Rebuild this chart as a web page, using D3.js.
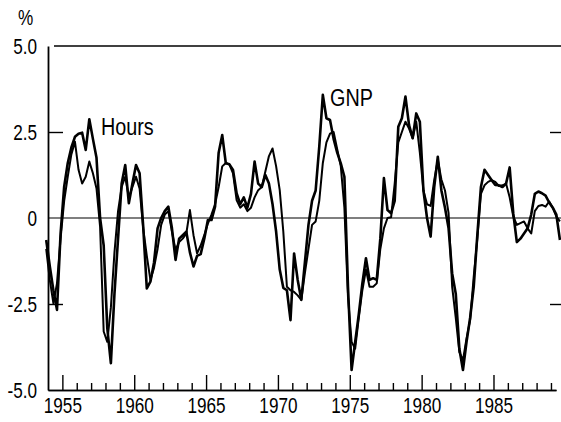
<!DOCTYPE html>
<html>
<head>
<meta charset="utf-8">
<script src="https://cdn.jsdelivr.net/npm/d3@7"></script>
<style>
  body { margin: 0; background: #fff; }
  svg { display: block; font-family: "Liberation Sans", Arial, sans-serif; }
</style>
</head>
<body>
<script>
// quarterly data, first point is the last quarter of 1953 (plotted at mid-quarter)
const firstQuarter = 1953.75;

// thick line
const hours = [
  -0.64,
  -1.4, -2.1, -2.67, -0.45,   // 1954
  0.91, 1.6, 2.05, 2.36,      // 1955
  2.45, 2.48, 1.98, 2.87,     // 1956
  2.3, 1.75, 0.0, -0.8,       // 1957
  -3.2, -4.22, -2.2, -0.6,    // 1958
  1.0, 1.54, 0.43, 1.0,       // 1959
  1.54, 1.3, -0.25, -2.05,    // 1960
  -1.85, -1.3, -0.3, 0.0,     // 1961
  0.2, 0.33, -0.3, -1.22,     // 1962
  -0.6, -0.5, -0.4, -1.0,     // 1963
  -1.41, -1.1, -1.05, -0.6,   // 1964
  -0.06, -0.06, 0.33, 1.9,    // 1965
  2.41, 1.59, 1.56, 1.4,      // 1966
  0.72, 0.4, 0.6, 0.3,        // 1967
  0.7, 1.64, 1.0, 0.9,        // 1968
  1.25, 1.0, 0.4, -0.4,       // 1969
  -1.5, -2.03, -2.1, -2.97,   // 1970
  -1.03, -1.8, -2.38, -1.3,   // 1971
  -0.2, 0.5, 0.8, 2.07,       // 1972
  3.58, 2.9, 2.85, 2.3,       // 1973
  1.9, 1.59, 1.2, -2.0,       // 1974
  -4.42, -3.6, -2.8, -1.9,    // 1975
  -1.17, -1.8, -1.75, -1.8,   // 1976
  -0.6, 1.16, 0.23, 0.14,     // 1977
  0.5, 2.65, 2.9, 3.53,       // 1978
  2.7, 2.32, 3.04, 2.8,       // 1979
  0.8, 0.0, -0.54, 0.9,       // 1980
  1.78, 0.8, 0.3, -0.3,       // 1981
  -1.61, -2.2, -3.8, -4.42,   // 1982
  -3.6, -2.9, -2.0, -0.5,     // 1983
  0.9, 1.4, 1.25, 1.1,        // 1984
  0.96, 0.95, 0.9, 1.0,       // 1985
  1.47, 0.14, -0.7, -0.6,     // 1986
  -0.45, -0.3, 0.1, 0.7,      // 1987
  0.77, 0.72, 0.65, 0.45,     // 1988
  0.3, 0.1, -0.64             // 1989
];

// thinner line
const gnp = [
  -0.9,
  -1.8, -2.48, -1.9, -0.6,    // 1954
  0.5, 1.2, 1.85, 2.22,       // 1955
  1.4, 1.0, 1.2, 1.64,        // 1956
  1.3, 0.86, -0.25, -3.3,     // 1957
  -3.6, -2.6, -1.0, 0.2,      // 1958
  0.9, 1.2, 0.6, 0.9,         // 1959
  1.2, 0.85, -0.3, -1.1,      // 1960
  -1.8, -1.45, -0.9, -0.2,    // 1961
  0.1, 0.2, -0.4, -0.93,      // 1962
  -0.7, -0.6, -0.45, 0.23,    // 1963
  -0.5, -1.03, -0.8, -0.5,    // 1964
  -0.16, 0.1, 0.4, 0.9,       // 1965
  1.5, 1.6, 1.55, 1.3,        // 1966
  0.52, 0.3, 0.4, 0.2,        // 1967
  0.3, 0.6, 0.81, 0.9,        // 1968
  1.35, 1.8, 2.02, 1.5,       // 1969
  0.81, -0.4, -2.0, -2.1,     // 1970
  -2.15, -2.25, -2.38, -1.6,  // 1971
  -0.9, -0.2, -0.1, 0.5,      // 1972
  1.6, 2.2, 2.45, 2.5,        // 1973
  2.0, 1.5, 0.3, -2.3,        // 1974
  -3.6, -3.8, -2.9, -2.1,     // 1975
  -1.5, -2.0, -2.0, -1.9,     // 1976
  -0.9, -0.3, 0.0, 0.02,      // 1977
  1.0, 2.2, 2.5, 2.8,         // 1978
  2.6, 2.32, 2.8, 1.9,        // 1979
  0.8, 0.4, 0.35, 1.1,        // 1980
  1.69, 1.12, 0.8, 0.14,      // 1981
  -2.0, -2.9, -3.9, -4.13,    // 1982
  -3.5, -2.97, -1.7, -0.6,    // 1983
  0.7, 0.95, 1.05, 1.1,       // 1984
  1.05, 0.93, 0.95, 1.0,      // 1985
  0.6, 0.05, -0.2, -0.15,     // 1986
  -0.1, -0.3, -0.45, 0.2,     // 1987
  0.35, 0.38, 0.33, 0.48,     // 1988
  0.3, 0.04, -0.1             // 1989
];

const yTicks = [5, 2.5, 0, -2.5, -5];
const yTickLabels = ["5.0", "2.5", "0", "-2.5", "-5.0"];
const majorYears = [1955, 1960, 1965, 1970, 1975, 1980, 1985];
const minorYears = [1956, 1957, 1958, 1959, 1961, 1962, 1963, 1964, 1966, 1967, 1968, 1969,
  1971, 1972, 1973, 1974, 1976, 1977, 1978, 1979, 1981, 1982, 1983, 1984, 1986, 1987, 1988, 1989];

const width = 561, height = 422;
const squeeze = 0.78; // condensed look of the printed type

const svg = d3.select("body").append("svg")
  .attr("width", width)
  .attr("height", height);

const x = d3.scaleLinear().domain([1954, 1989.35]).range([48, 556]);
const y = d3.scaleLinear().domain([-5, 5]).range([390, 46]);

const tOf = i => firstQuarter + (i + 0.5) / 4;

// frame lines
svg.append("line")
  .attr("x1", 54).attr("x2", width)
  .attr("y1", y(5)).attr("y2", y(5))
  .attr("stroke", "#000").attr("stroke-width", 1.6);

svg.append("line")
  .attr("x1", x(1954)).attr("x2", width)
  .attr("y1", y(0)).attr("y2", y(0))
  .attr("stroke", "#000").attr("stroke-width", 1.2);

// x axis: minor ticks then labelled major ticks
const xMinor = svg.append("g")
  .attr("transform", `translate(0,${y(-5)})`)
  .call(d3.axisBottom(x).tickValues(minorYears).tickSize(-7).tickSizeOuter(0).tickFormat(""));

const xMajor = svg.append("g")
  .attr("transform", `translate(0,${y(-5)})`)
  .call(d3.axisBottom(x).tickValues(majorYears).tickSize(-15).tickSizeOuter(0)
    .tickPadding(7).tickFormat(d3.format("d")));

[xMinor, xMajor].forEach(g => {
  g.select(".domain").attr("stroke", "#000").attr("stroke-width", 1.6);
  g.selectAll(".tick line").attr("stroke", "#000").attr("stroke-width", 1.4);
});
xMajor.selectAll(".tick text")
  .attr("fill", "#000")
  .attr("transform", `scale(${squeeze},1)`)
  .style("font-size", "22px");

// y axis on the left
const yAxis = svg.append("g")
  .attr("transform", `translate(${x(1954)},0)`)
  .call(d3.axisLeft(y).tickValues(yTicks).tickSize(0).tickPadding(11 / squeeze)
    .tickFormat((d, i) => yTickLabels[i]));
yAxis.select(".domain").attr("stroke", "#000").attr("stroke-width", 1.8);
yAxis.selectAll(".tick text")
  .attr("fill", "#000")
  .attr("transform", `scale(${squeeze},1)`)
  .style("font-size", "22px");

// inner ticks at +-2.5
svg.append("g")
  .attr("transform", `translate(${x(1954)},0)`)
  .call(d3.axisRight(y).tickValues([2.5, -2.5]).tickSize(15).tickFormat(""))
  .call(g => g.select(".domain").remove())
  .selectAll(".tick line").attr("stroke", "#000").attr("stroke-width", 1.4);

svg.append("g")
  .attr("transform", `translate(${width},0)`)
  .call(d3.axisLeft(y).tickValues([2.5, -2.5]).tickSize(11).tickFormat(""))
  .call(g => g.select(".domain").remove())
  .selectAll(".tick line").attr("stroke", "#000").attr("stroke-width", 1.4);

svg.append("text")
  .attr("transform", `translate(18,25) scale(${squeeze},1)`)
  .style("font-size", "22px")
  .text("%");

// the two series
const line = d3.line()
  .x((d, i) => x(tOf(i)))
  .y(d => y(d));

svg.append("path")
  .datum(gnp)
  .attr("fill", "none")
  .attr("stroke", "#000")
  .attr("stroke-width", 2)
  .attr("stroke-linejoin", "round")
  .attr("d", line);

svg.append("path")
  .datum(hours)
  .attr("fill", "none")
  .attr("stroke", "#000")
  .attr("stroke-width", 2.6)
  .attr("stroke-linejoin", "round")
  .attr("d", line);

// series labels
svg.append("text")
  .attr("transform", "translate(101,135) scale(0.86,1)")
  .style("font-size", "23px")
  .text("Hours");

svg.append("text")
  .attr("transform", "translate(330,106) scale(0.86,1)")
  .style("font-size", "23px")
  .text("GNP");
</script>
</body>
</html>
